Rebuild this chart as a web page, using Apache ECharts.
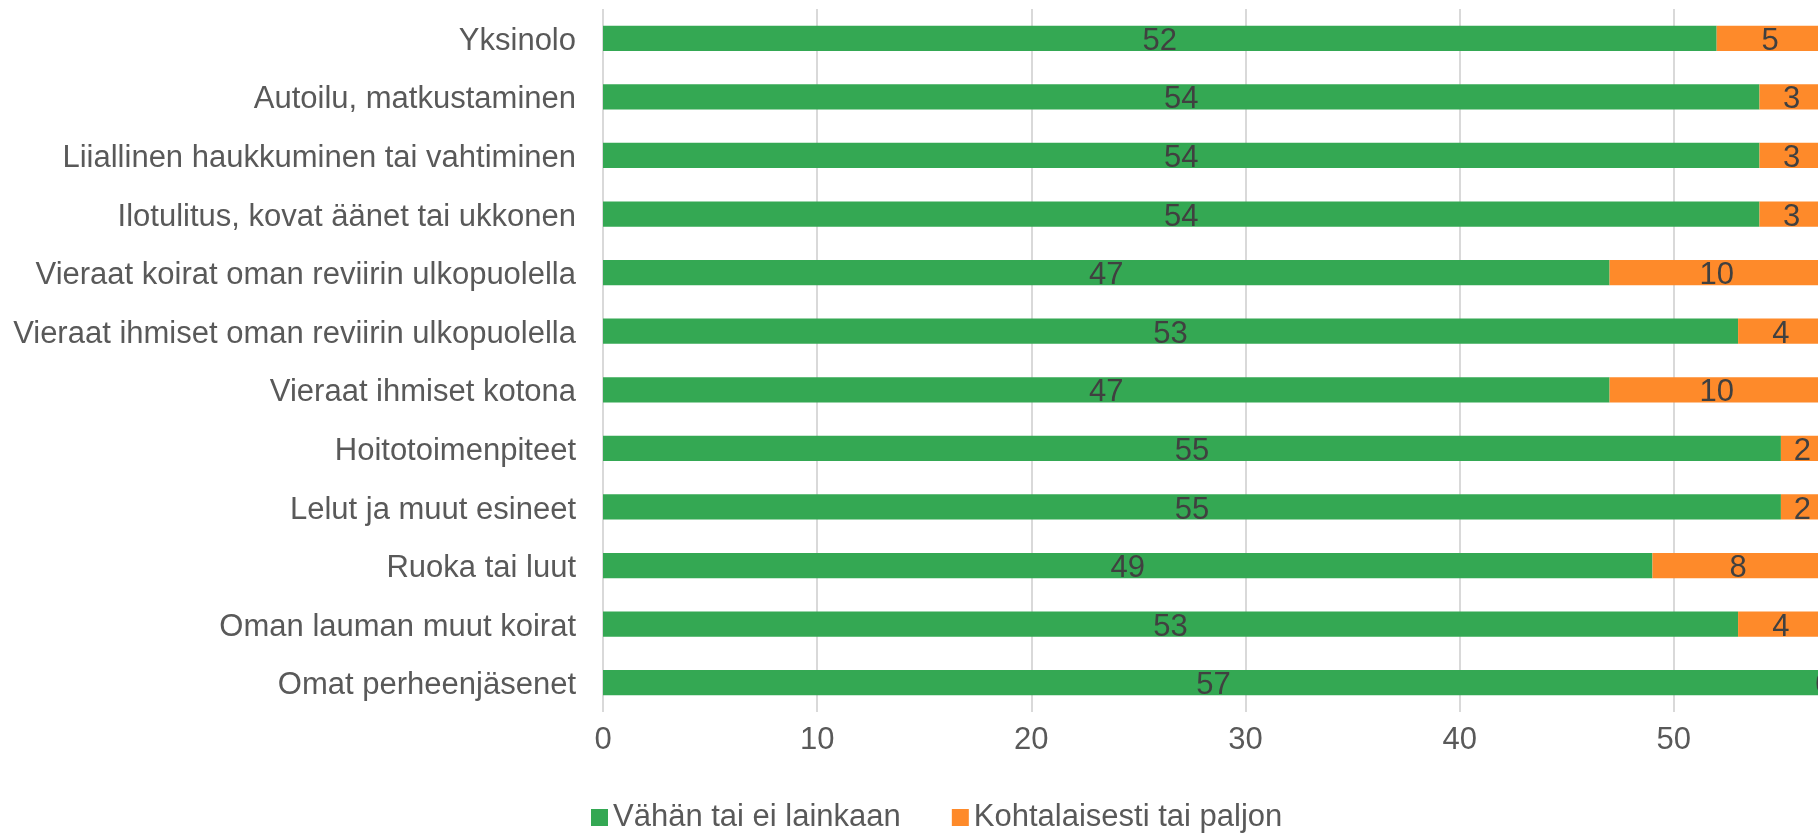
<!DOCTYPE html>
<html>
<head>
<meta charset="utf-8">
<script src="https://cdn.jsdelivr.net/npm/echarts@6/dist/echarts.min.js"></script>
<style>
html,body{margin:0;padding:0;background:#fff;overflow:hidden;}
#c{width:1818px;height:833px;}
</style>
</head>
<body>
<div id="c"></div>
<script>
const categories = [
  "Yksinolo",
  "Autoilu, matkustaminen",
  "Liiallinen haukkuminen tai vahtiminen",
  "Ilotulitus, kovat äänet tai ukkonen",
  "Vieraat koirat oman reviirin ulkopuolella",
  "Vieraat ihmiset oman reviirin ulkopuolella",
  "Vieraat ihmiset kotona",
  "Hoitotoimenpiteet",
  "Lelut ja muut esineet",
  "Ruoka tai luut",
  "Oman lauman muut koirat",
  "Omat perheenjäsenet"
];
const seriesNames = ["Vähän tai ei lainkaan", "Kohtalaisesti tai paljon"];
const vahan = [52, 54, 54, 54, 47, 53, 47, 55, 55, 49, 53, 57];
const kohtalaisesti = [5, 3, 3, 3, 10, 4, 10, 2, 2, 8, 4, 0];
const xTicks = [0, 10, 20, 30, 40, 50, 60];

const FONT = "'Liberation Sans', Arial, sans-serif";
const chart = echarts.init(document.getElementById('c'), null, {renderer: 'canvas'});
const labelStyle = {show: true, position: 'inside', offset: [0, 3], color: '#404040', fontSize: 31, fontFamily: FONT};
chart.setOption({
  animation: false,
  textStyle: {fontFamily: FONT},
  grid: {left: 603, width: 1285, top: 9, height: 703, containLabel: false, outerBoundsMode: 'none'},
  xAxis: {
    type: 'value', min: xTicks[0], max: xTicks[xTicks.length - 1], interval: 10,
    axisLine: {show: false}, axisTick: {show: false},
    splitLine: {show: true, lineStyle: {color: '#d9d9d9', width: 2}},
    axisLabel: {color: '#595959', fontSize: 31, fontFamily: FONT, margin: 13}
  },
  yAxis: {
    type: 'category', data: categories, inverse: true,
    axisLine: {show: false}, axisTick: {show: false},
    axisLabel: {
      margin: 27,
      formatter: function (v) { return '{a|' + v + '}'; },
      rich: {a: {color: '#595959', fontSize: 31, fontFamily: FONT, padding: [6, 0, 0, 0]}}
    }
  },
  legend: {
    left: 586, top: 797, itemWidth: 17, itemHeight: 17, itemGap: 51,
    icon: 'rect',
    textStyle: {color: '#595959', fontSize: 31, fontFamily: FONT},
    data: seriesNames
  },
  series: [
    {name: seriesNames[0], type: 'bar', stack: 's', data: vahan, barWidth: '43%',
     itemStyle: {color: '#34a853'}, label: labelStyle},
    {name: seriesNames[1], type: 'bar', stack: 's', data: kohtalaisesti, barWidth: '43%',
     itemStyle: {color: '#fe8a2a'}, label: labelStyle}
  ]
});
</script>
</body>
</html>
